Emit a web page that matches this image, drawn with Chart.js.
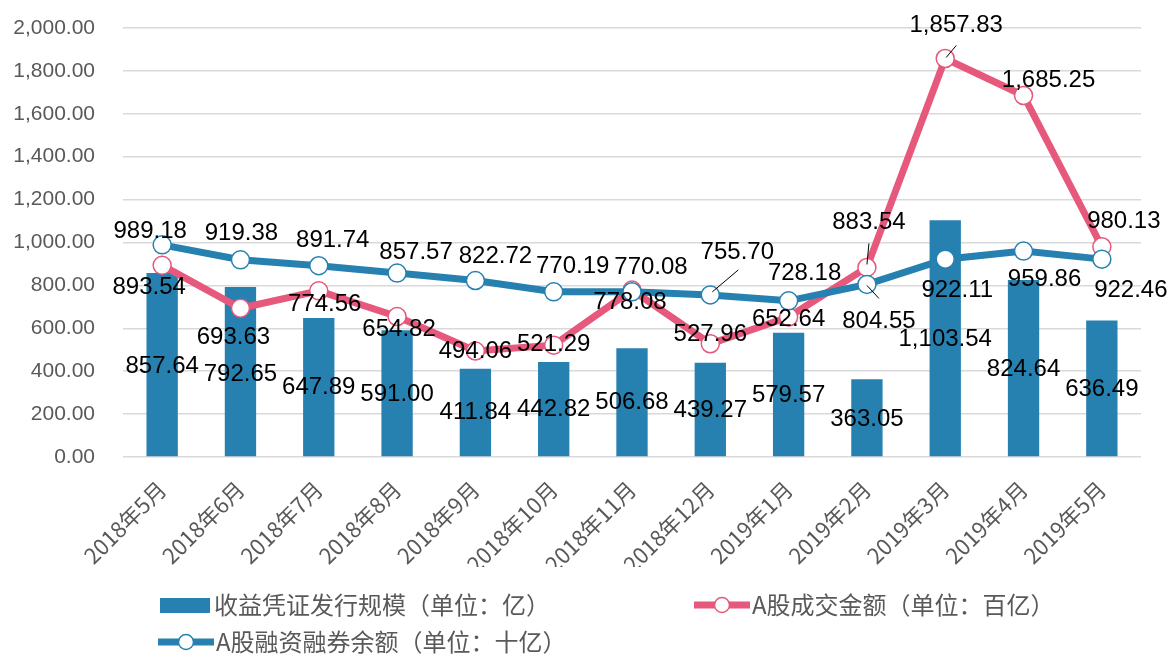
<!DOCTYPE html>
<html>
<head>
<meta charset="utf-8">
<script src="https://cdn.jsdelivr.net/npm/chart.js@4"></script>
<style>
  html, body { margin: 0; padding: 0; background: #fff; }
  #wrap { width: 1171px; height: 655px; position: relative; }
</style>
</head>
<body>
<div id="wrap"><canvas id="chart"></canvas></div>
<script>
// 数据
const months = ["2018年5月", "2018年6月", "2018年7月", "2018年8月", "2018年9月", "2018年10月",
  "2018年11月", "2018年12月", "2019年1月", "2019年2月", "2019年3月", "2019年4月", "2019年5月"];
const issueScale = [857.64, 792.65, 647.89, 591.00, 411.84, 442.82, 506.68, 439.27, 579.57, 363.05, 1103.54, 824.64, 636.49];
const turnover = [893.54, 693.63, 774.56, 654.82, 494.06, 521.29, 778.08, 527.96, 652.64, 883.54, 1857.83, 1685.25, 980.13];
const marginBalance = [989.18, 919.38, 891.74, 857.57, 822.72, 770.19, 770.08, 755.70, 728.18, 804.55, 922.11, 959.86, 922.46];
const seriesNames = ["收益凭证发行规模（单位：亿）", "A股成交金额（单位：百亿）", "A股融资融券余额（单位：十亿）"];

const BLUE = "#2681b0";
const PINK = "#e6587c";

// 数据标签相对位置 (dx, dy)
const barLabelPos = [[0, 93], [0, 87], [0, 69], [0, 64], [0, 44], [0, 47], [0, 54], [0, 48], [0, 63], [0, 40], [0, 119], [0, 89], [0, 69]];
const turnoverLabelPos = [[-13, 22], [-7, 29], [6, 14], [2, 13], [0, 0], [0, -1], [-2, 12], [0, -9], [0, 2], [2, -45], [11, -33], [25, -15], [22, -25]];
const marginLabelPos = [[-12, -13], [1, -26], [14, -25], [19, -21], [20, -24], [19, -25], [19, -24], [27, -43], [16, -27], [12, 37], [12, 31], [21, 28], [29, 31]];
const labelPos = [barLabelPos, turnoverLabelPos, marginLabelPos];
// 引导线 [数据集, 索引, x1, y1, x2, y2]
const leaders = [[2, 7, 2, -3, 28, -25], [2, 9, 0, 1, 12, 14], [1, 9, 2, -24, 0, -3], [1, 10, 1, -1, 11, -13]];

function fmt(v) {
  return v.toLocaleString("en-US", { minimumFractionDigits: 2, maximumFractionDigits: 2 });
}

const valueLabels = {
  id: "valueLabels",
  afterDatasetsDraw(chart) {
    const ctx = chart.ctx;
    ctx.save();
    ctx.strokeStyle = "#000";
    ctx.lineWidth = 1;
    leaders.forEach(l => {
      const el = chart.getDatasetMeta(l[0]).data[l[1]];
      ctx.beginPath();
      ctx.moveTo(el.x + l[2], el.y + l[3]);
      ctx.lineTo(el.x + l[4], el.y + l[5]);
      ctx.stroke();
    });
    ctx.font = '24px "Liberation Sans", Arial, sans-serif';
    ctx.fillStyle = "#000";
    ctx.textAlign = "center";
    ctx.textBaseline = "middle";
    chart.data.datasets.forEach((ds, i) => {
      chart.getDatasetMeta(i).data.forEach((el, j) => {
        const p = labelPos[i][j];
        ctx.fillText(fmt(ds.data[j]), el.x + p[0], el.y + p[1]);
      });
    });
    ctx.restore();
  }
};

// 图例（Excel 式排版）
const excelLegend = {
  id: "excelLegend",
  afterDraw(chart) {
    const ctx = chart.ctx;
    ctx.save();
    ctx.font = '24px "Noto Sans CJK SC", sans-serif';
    ctx.textBaseline = "middle";
    // 柱
    ctx.fillStyle = BLUE;
    ctx.fillRect(160, 598, 50, 15);
    ctx.fillStyle = "#595959";
    ctx.fillText(seriesNames[0], 214, 605);
    // 线
    function lineItem(x, y, color, text) {
      ctx.strokeStyle = color;
      ctx.lineWidth = 7;
      ctx.beginPath();
      ctx.moveTo(x, y);
      ctx.lineTo(x + 56, y);
      ctx.stroke();
      ctx.beginPath();
      ctx.arc(x + 28, y, 7.5, 0, Math.PI * 2);
      ctx.fillStyle = "#fff";
      ctx.fill();
      ctx.lineWidth = 1.5;
      ctx.stroke();
      ctx.fillStyle = "#595959";
      ctx.fillText(text, x + 58, y);
    }
    lineItem(694, 605, PINK, seriesNames[1]);
    lineItem(158, 642, BLUE, seriesNames[2]);
    ctx.restore();
  }
};

new Chart(document.getElementById("chart"), {
  type: "bar",
  data: {
    labels: months,
    datasets: [
      {
        label: seriesNames[0],
        data: issueScale,
        backgroundColor: BLUE,
        barPercentage: 0.4,
        categoryPercentage: 1,
        order: 3
      },
      {
        type: "line",
        label: seriesNames[1],
        data: turnover,
        borderColor: PINK,
        borderWidth: 7,
        pointRadius: 9,
        pointBorderWidth: 1.5,
        pointBackgroundColor: "#fff",
        pointBorderColor: PINK,
        tension: 0,
        order: 2
      },
      {
        type: "line",
        label: seriesNames[2],
        data: marginBalance,
        borderColor: BLUE,
        borderWidth: 7,
        pointRadius: 9,
        pointBorderWidth: 1.5,
        pointBackgroundColor: "#fff",
        pointBorderColor: BLUE,
        tension: 0,
        order: 1
      }
    ]
  },
  options: {
    responsive: true,
    maintainAspectRatio: false,
    animation: false,
    layout: { padding: { top: 28, right: 30, bottom: 88, left: 0 } },
    plugins: {
      legend: { display: false },
      tooltip: { enabled: false }
    },
    scales: {
      x: {
        grid: { display: false },
        border: { display: false },
        ticks: {
          maxRotation: 45,
          minRotation: 45,
          autoSkip: false,
          padding: 11,
          color: "#595959",
          font: { family: '"Noto Sans CJK SC", sans-serif', size: 22 }
        },
        afterFit: s => { s.height = 110; }
      },
      y: {
        min: 0,
        max: 2000,
        border: { display: false },
        grid: { color: "#d9d9d9", lineWidth: 1.5, drawTicks: true, tickLength: 28, tickColor: "transparent" },
        ticks: {
          stepSize: 200,
          padding: 0,
          color: "#595959",
          font: { family: '"Liberation Sans", Arial, sans-serif', size: 21 },
          callback: v => fmt(v)
        },
        afterFit: s => { s.width = 123; }
      }
    }
  },
  plugins: [valueLabels, excelLegend]
});
</script>
</body>
</html>
